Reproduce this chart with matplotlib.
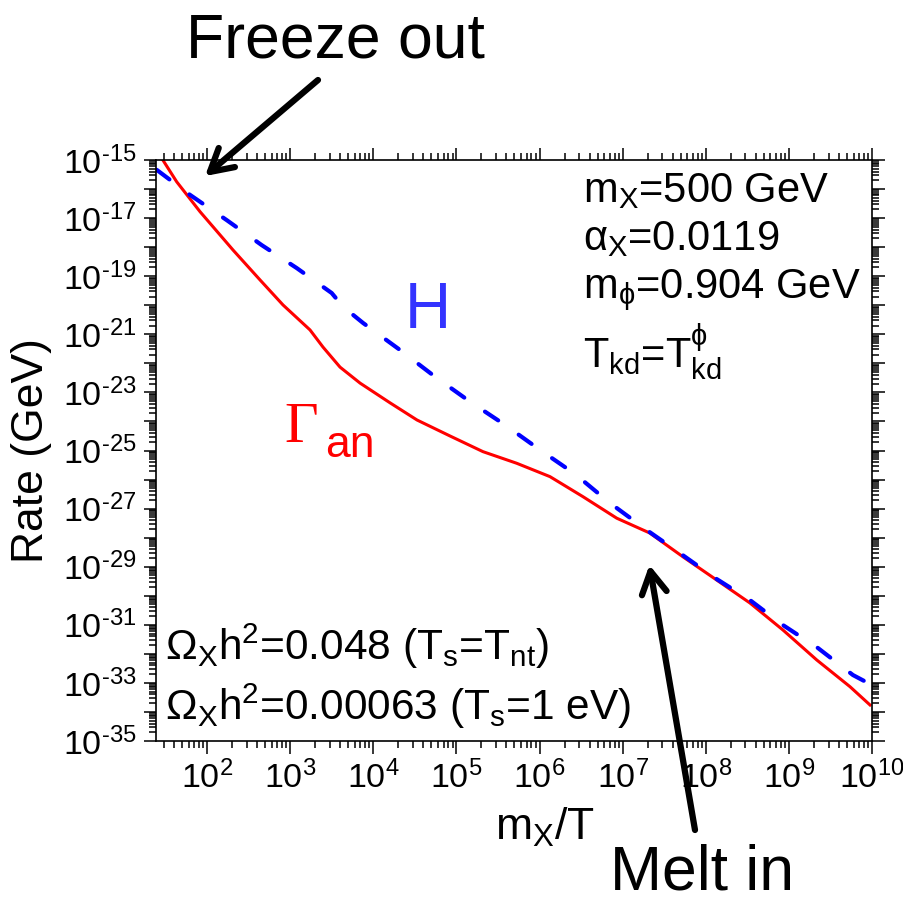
import numpy as np
import matplotlib
matplotlib.use("Agg")
import matplotlib.pyplot as plt
from matplotlib.ticker import LogLocator, FuncFormatter, NullFormatter

plt.rcParams.update({
    "font.family": ["Liberation Sans", "DejaVu Sans"],
    "mathtext.fontset": "custom", "mathtext.rm": "Liberation Sans",
    "mathtext.it": "Liberation Sans", "mathtext.bf": "Liberation Sans:bold",
    "axes.unicode_minus": False,
})

# log10(m_X/T) and log10(rate / GeV)
logx_an = [1.455, 1.635, 1.916, 2.313, 2.638, 2.914, 3.239, 3.395, 3.600, 3.841,
           4.202, 4.526, 4.923, 5.320, 5.726, 6.126, 6.523, 6.929, 7.326, 7.726,
           8.132, 8.532, 8.929, 9.335, 9.735, 9.976]
logy_an = [-14.94, -15.75, -16.78, -18.10, -19.13, -19.99, -20.85, -21.44, -22.13, -22.68,
           -23.36, -23.95, -24.50, -25.04, -25.44, -25.90, -26.59, -27.33, -27.84, -28.66,
           -29.46, -30.25, -31.18, -32.21, -33.13, -33.76]
logx_H = [1.395, 1.795, 2.237, 2.658, 3.079, 3.500, 3.636, 3.877, 4.322, 4.743,
          5.164, 5.585, 6.006, 6.427, 6.848, 7.290, 7.687, 8.112, 8.532, 8.929,
          9.350, 9.771, 9.976]
logy_H = [-15.34, -16.20, -17.07, -17.93, -18.72, -19.58, -20.05, -20.61, -21.54, -22.46,
          -23.32, -24.12, -24.98, -25.81, -26.81, -27.74, -28.53, -29.39, -30.15, -31.01,
          -31.80, -32.73, -33.04]

W, H = 904, 899
def fp(x, y):
    return x / W, 1 - y / H

fig = plt.figure(figsize=(W / 100, H / 100), dpi=100)
ax = fig.add_axes([156 / W, 1 - 741 / H, (872 - 156) / W, (741 - 160) / H])

ax.plot(10 ** np.array(logx_an), 10 ** np.array(logy_an), color="red", lw=2.2)
ax.plot(10 ** np.array(logx_H), 10 ** np.array(logy_H), color="blue", lw=3,
        dashes=(3.8, 6), dash_capstyle="round")

ax.set_xscale("log"); ax.set_yscale("log")
ax.set_xlim(10 ** 1.386, 1e10)
ax.set_ylim(1e-35, 1e-15)

ax.xaxis.set_major_locator(LogLocator(base=10, numticks=40))
ax.xaxis.set_minor_locator(LogLocator(base=10, subs=np.arange(2, 10) * 1.0, numticks=200))
ax.yaxis.set_major_locator(LogLocator(base=10, numticks=60))
ax.yaxis.set_minor_locator(LogLocator(base=10, subs=np.arange(2, 10) * 1.0, numticks=400))
ax.xaxis.set_minor_formatter(NullFormatter())
ax.yaxis.set_minor_formatter(NullFormatter())

def expo(e):
    # short hyphen in the exponent, as in the original figure
    return ("\u2010" + str(-e)) if e < 0 else str(e)

def xfmt(v, pos):
    e = int(round(np.log10(v)))
    return f"$10^{{{expo(e)}}}$"

def yfmt(v, pos):
    e = int(round(np.log10(v)))
    return f"$10^{{{expo(e)}}}$" if e % 2 else ""

ax.xaxis.set_major_formatter(FuncFormatter(xfmt))
ax.yaxis.set_major_formatter(FuncFormatter(yfmt))
ax.tick_params(which="both", direction="out", top=True, right=True, width=1.1)
ax.tick_params(which="major", length=9, labelsize=24.5, pad=5)
ax.tick_params(which="minor", length=5)
for s in ax.spines.values():
    s.set_linewidth(1.2)

ax.set_xlabel("m$_X$/T", fontsize=32)
ax.xaxis.set_label_coords((545 - 156) / 716, -(806 - 741) / 581)
ax.set_ylabel("Rate (GeV)", fontsize=32)
ax.yaxis.set_label_coords(-(156 - 52) / 716, 0.5)

# parameter block, top right
fig.text(*fp(583, 202), "m$_X$=500 GeV", fontsize=30, va="baseline")
fig.text(*fp(583, 250), r"$\alpha_X$=0.0119", fontsize=30, va="baseline")
fig.text(*fp(583, 298), r"m$_\phi$=0.904 GeV", fontsize=30, va="baseline")
fig.text(*fp(583, 368), r"T$_{kd}$=T$^\phi_{kd}$", fontsize=30, va="baseline")

# relic abundance, bottom left
fig.text(*fp(165, 660), r"Ω$_X$h$^2$=0.048 (T$_s$=T$_{nt}$)", fontsize=30.5, va="baseline")
fig.text(*fp(165, 720), r"Ω$_X$h$^2$=0.00063 (T$_s$=1 eV)", fontsize=30.5, va="baseline")

# curve labels
fig.text(*fp(405, 328), "H", fontsize=46, color="#3333ff", va="baseline")
fig.text(*fp(284, 442), "Γ", fontsize=42, color="red", va="baseline",
         family=["Liberation Serif", "DejaVu Serif"])
fig.text(*fp(325, 457), "an", fontsize=32, color="red", va="baseline")

# arrows and their captions
fig.text(*fp(335, 57), "Freeze out", fontsize=45, ha="center", va="baseline")
fig.text(*fp(702, 889), "Melt in", fontsize=45, ha="center", va="baseline")
arrow = dict(arrowstyle="->,head_length=0.8,head_width=0.45", lw=4.5, color="black",
             shrinkA=0, shrinkB=0, mutation_scale=20)
ax.annotate("", xy=(94.6, 2.8e-16), xycoords="data", xytext=fp(318, 80),
            textcoords="figure fraction", arrowprops=arrow, annotation_clip=False)
ax.annotate("", xy=(2.1e7, 1.15e-29), xycoords="data", xytext=fp(695, 830),
            textcoords="figure fraction", arrowprops=arrow, annotation_clip=False)

fig.savefig("out.png", dpi=100)
